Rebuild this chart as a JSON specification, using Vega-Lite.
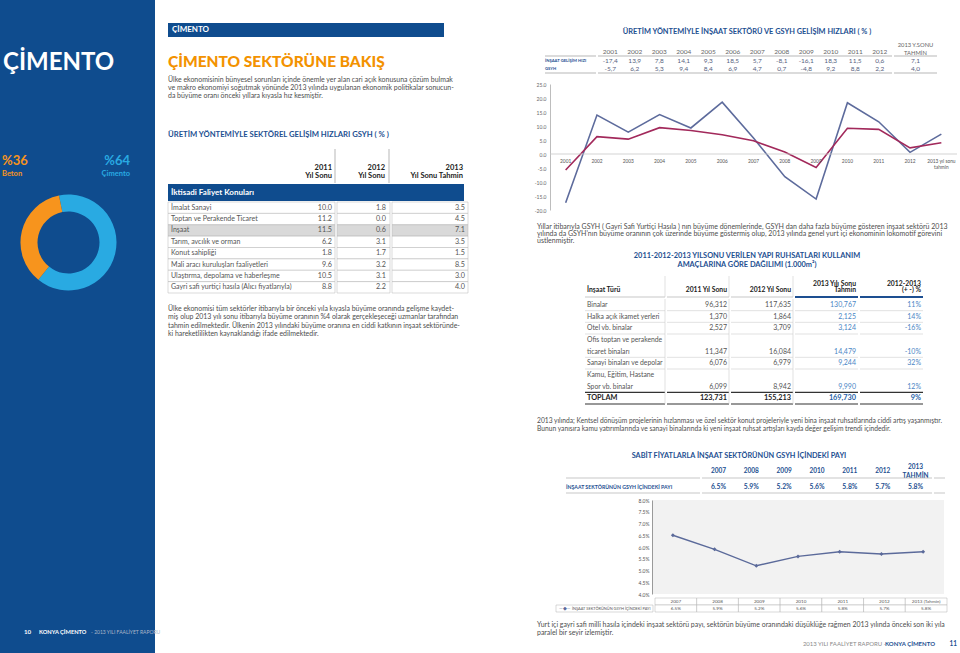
{
"$schema": "https://vega.github.io/schema/vega-lite/v6.json",
"padding": 0,
"background": "#ffffff",
"config": {
  "view": {"stroke": null},
  "font": "Lato",
  "text": {"font": "Lato"},
  "axis": {"labelFont": "Lato"},
  "locale": {"number": {"decimal": ".", "thousands": ",", "grouping": [3], "currency": ["", ""], "minus": "-"}}
},
"datasets": {
  "donut": [{"k": "Çimento", "v": 64}, {"k": "Beton", "v": 36}],
  "donutLbl": [
    {"side": "L", "line": "a", "t": "%36"}, {"side": "L", "line": "b", "t": "Beton"},
    {"side": "R", "line": "a", "t": "%64"}, {"side": "R", "line": "b", "t": "Çimento"}
  ],
  "sector": [
    {"konu": "İmalat Sanayi", "y2011": 10.0, "y2012": 1.8, "y2013": 3.5},
    {"konu": "Toptan ve Perakende Ticaret", "y2011": 11.2, "y2012": 0.0, "y2013": 4.5},
    {"konu": "İnşaat", "y2011": 11.5, "y2012": 0.6, "y2013": 7.1},
    {"konu": "Tarım, avcılık ve orman", "y2011": 6.2, "y2012": 3.1, "y2013": 3.5},
    {"konu": "Konut sahipliği", "y2011": 1.8, "y2012": 1.7, "y2013": 1.5},
    {"konu": "Mali aracı kuruluşları faaliyetleri", "y2011": 9.6, "y2012": 3.2, "y2013": 8.5},
    {"konu": "Ulaştırma, depolama ve haberleşme", "y2011": 10.5, "y2012": 3.1, "y2013": 3.0},
    {"konu": "Gayri safi yurtiçi hasıla (Alıcı fiyatlarıyla)", "y2011": 8.8, "y2012": 2.2, "y2013": 4.0}
  ],
  "growth": [
    {"year": "2001", "series": "İnşaat", "v": -17.4, "lbl": "-17,4"},
    {"year": "2002", "series": "İnşaat", "v": 13.9, "lbl": "13,9"},
    {"year": "2003", "series": "İnşaat", "v": 7.8, "lbl": "7,8"},
    {"year": "2004", "series": "İnşaat", "v": 14.1, "lbl": "14,1"},
    {"year": "2005", "series": "İnşaat", "v": 9.3, "lbl": "9,3"},
    {"year": "2006", "series": "İnşaat", "v": 18.5, "lbl": "18,5"},
    {"year": "2007", "series": "İnşaat", "v": 5.7, "lbl": "5,7"},
    {"year": "2008", "series": "İnşaat", "v": -8.1, "lbl": "-8,1"},
    {"year": "2009", "series": "İnşaat", "v": -16.1, "lbl": "-16,1"},
    {"year": "2010", "series": "İnşaat", "v": 18.3, "lbl": "18,3"},
    {"year": "2011", "series": "İnşaat", "v": 11.5, "lbl": "11,5"},
    {"year": "2012", "series": "İnşaat", "v": 0.6, "lbl": "0,6"},
    {"year": "2013", "series": "İnşaat", "v": 7.1, "lbl": "7,1"},
    {"year": "2001", "series": "GSYH", "v": -5.7, "lbl": "-5,7"},
    {"year": "2002", "series": "GSYH", "v": 6.2, "lbl": "6,2"},
    {"year": "2003", "series": "GSYH", "v": 5.3, "lbl": "5,3"},
    {"year": "2004", "series": "GSYH", "v": 9.4, "lbl": "9,4"},
    {"year": "2005", "series": "GSYH", "v": 8.4, "lbl": "8,4"},
    {"year": "2006", "series": "GSYH", "v": 6.9, "lbl": "6,9"},
    {"year": "2007", "series": "GSYH", "v": 4.7, "lbl": "4,7"},
    {"year": "2008", "series": "GSYH", "v": 0.7, "lbl": "0,7"},
    {"year": "2009", "series": "GSYH", "v": -4.8, "lbl": "-4,8"},
    {"year": "2010", "series": "GSYH", "v": 9.2, "lbl": "9,2"},
    {"year": "2011", "series": "GSYH", "v": 8.8, "lbl": "8,8"},
    {"year": "2012", "series": "GSYH", "v": 2.2, "lbl": "2,2"},
    {"year": "2013", "series": "GSYH", "v": 4.0, "lbl": "4,0"}
  ],
  "yearLbl": [
    {"year": "2001", "t": "2001"}, {"year": "2002", "t": "2002"}, {"year": "2003", "t": "2003"},
    {"year": "2004", "t": "2004"}, {"year": "2005", "t": "2005"}, {"year": "2006", "t": "2006"},
    {"year": "2007", "t": "2007"}, {"year": "2008", "t": "2008"}, {"year": "2009", "t": "2009"},
    {"year": "2010", "t": "2010"}, {"year": "2011", "t": "2011"}, {"year": "2012", "t": "2012"},
    {"year": "2013", "t": "2013 yıl sonu\ntahmin"}
  ],
  "seriesLbl": [{"series": "İnşaat", "t": "İNŞAAT GELİŞİM HIZI"}, {"series": "GSYH", "t": "GSYH"}],
  "ruhsat": [
    {"slot": "r1", "tur": "Binalar", "y2011": 96312, "y2012": 117635, "y2013": 130767, "pct": 0.11},
    {"slot": "r2", "tur": "Halka açık ikamet yerleri", "y2011": 1370, "y2012": 1864, "y2013": 2125, "pct": 0.14},
    {"slot": "r3", "tur": "Otel vb. binalar", "y2011": 2527, "y2012": 3709, "y2013": 3124, "pct": -0.16},
    {"slot": "r4a", "tur": "Ofis toptan ve perakende"},
    {"slot": "r4b", "tur": "ticaret binaları", "y2011": 11347, "y2012": 16084, "y2013": 14479, "pct": -0.10},
    {"slot": "r5", "tur": "Sanayi binaları ve depolar", "y2011": 6076, "y2012": 6979, "y2013": 9244, "pct": 0.32},
    {"slot": "r6a", "tur": "Kamu, Eğitim, Hastane"},
    {"slot": "r6b", "tur": "Spor vb. binalar", "y2011": 6099, "y2012": 8942, "y2013": 9990, "pct": 0.12},
    {"slot": "r7", "tur": "TOPLAM", "y2011": 123731, "y2012": 155213, "y2013": 169730, "pct": 0.09}
  ],
  "pay": [
    {"year": "2007", "hdr": "2007", "pay": 0.065},
    {"year": "2008", "hdr": "2008", "pay": 0.059},
    {"year": "2009", "hdr": "2009", "pay": 0.052},
    {"year": "2010", "hdr": "2010", "pay": 0.056},
    {"year": "2011", "hdr": "2011", "pay": 0.058},
    {"year": "2012", "hdr": "2012", "pay": 0.057},
    {"year": "2013 (Tahmin)", "hdr": "2013\nTAHMİN", "pay": 0.058}
  ],
  "texts": [
    {"block": "p1", "line": 1, "t": "Ülke ekonomisinin bünyesel sorunları içinde önemle yer alan cari açık konusuna çözüm bulmak"},
    {"block": "p1", "line": 2, "t": "ve makro ekonomiyi soğutmak yönünde 2013 yılında uygulanan ekonomik politikalar sonucun-"},
    {"block": "p1", "line": 3, "t": "da büyüme oranı önceki yıllara kıyasla hız kesmiştir."},
    {"block": "p2", "line": 1, "t": "Ülke ekonomisi tüm sektörler itibarıyla bir önceki yıla kıyasla büyüme oranında gelişme kaydet-"},
    {"block": "p2", "line": 2, "t": "miş olup 2013 yılı sonu itibarıyla büyüme oranının %4 olarak gerçekleşeceği uzmanlar tarafından"},
    {"block": "p2", "line": 3, "t": "tahmin edilmektedir. Ülkenin 2013 yılındaki büyüme oranına en ciddi katkının inşaat sektöründe-"},
    {"block": "p2", "line": 4, "t": "ki hareketlilikten kaynaklandığı ifade edilmektedir."},
    {"block": "p3", "line": 1, "t": "Yıllar itibarıyla GSYH ( Gayri Safi Yurtiçi Hasıla ) nın büyüme dönemlerinde, GSYH dan daha fazla büyüme gösteren inşaat sektörü 2013"},
    {"block": "p3", "line": 2, "t": "yılında da GSYH'nın büyüme oranının çok üzerinde büyüme göstermiş olup, 2013 yılında genel yurt içi ekonominin lokomotif görevini"},
    {"block": "p3", "line": 3, "t": "üstlenmiştir."},
    {"block": "p4", "line": 1, "t": "2013 yılında; Kentsel dönüşüm projelerinin hızlanması ve özel sektör konut projeleriyle yeni bina inşaat ruhsatlarında ciddi artış yaşanmıştır."},
    {"block": "p4", "line": 2, "t": "Bunun yanısıra kamu yatırımlarında ve sanayi binalarında ki yeni inşaat ruhsat artışları kayda değer gelişim trendi içindedir."},
    {"block": "p5", "line": 1, "t": "Yurt içi gayri safi milli hasıla içindeki inşaat sektörü payı, sektörün büyüme oranındaki düşüklüğe rağmen 2013 yılında önceki son iki yıla"},
    {"block": "p5", "line": 2, "t": "paralel bir seyir izlemiştir."}
  ]
},
"resolve": {"scale": {"color": "independent", "size": "independent", "theta": "independent"}},
"spacing": 0,
"hconcat": [
 {"spacing": 0, "vconcat": [
   {"width": 155, "height": 125, "view": {"fill": "#0f4c8e"}, "data": {"values": [{}]},
    "mark": {"type": "text", "text": "ÇİMENTO", "align": "left", "baseline": "middle", "dx": 3, "fontSize": 24, "fontWeight": "bold", "color": "#ffffff"},
    "encoding": {"x": {"datum": 0, "type": "quantitative", "scale": {"domain": [0, 1]}, "axis": null}}},
   {"width": 155, "height": 25, "view": {"fill": "#0f4c8e"}, "data": {"values": []}, "mark": "point"},
   {"width": 155, "height": 35, "view": {"fill": "#0f4c8e"}, "data": {"name": "donutLbl"}, "layer": [
     {"transform": [{"filter": "datum.side === 'L'"}],
      "mark": {"type": "text", "align": "left", "baseline": "middle", "dx": 2, "fontWeight": "bold", "color": "#f7941d"},
      "encoding": {"x": {"datum": 0, "type": "quantitative", "scale": {"domain": [0, 1]}, "axis": null},
        "y": {"field": "line", "type": "ordinal", "scale": {"type": "point", "domain": ["a", "b"], "padding": 0.9}, "axis": null},
        "size": {"field": "line", "type": "ordinal", "scale": {"domain": ["a", "b"], "range": [13, 7.5]}, "legend": null},
        "text": {"field": "t"}}},
     {"transform": [{"filter": "datum.side === 'R'"}],
      "mark": {"type": "text", "align": "right", "baseline": "middle", "dx": -25, "fontWeight": "bold", "color": "#29aae2"},
      "encoding": {"x": {"datum": 1, "type": "quantitative", "scale": {"domain": [0, 1]}, "axis": null},
        "y": {"field": "line", "type": "ordinal", "scale": {"type": "point", "domain": ["a", "b"], "padding": 0.9}, "axis": null},
        "size": {"field": "line", "type": "ordinal", "scale": {"domain": ["a", "b"], "range": [13, 7.5]}, "legend": null},
        "text": {"field": "t"}}}
   ]},
   {"spacing": 0, "hconcat": [
     {"width": 137, "height": 115, "view": {"fill": "#0f4c8e"}, "data": {"name": "donut"},
      "mark": {"type": "arc", "innerRadius": 31, "outerRadius": 48},
      "encoding": {
        "theta": {"field": "v", "type": "quantitative", "scale": {"range": [-0.2, 6.0832]}},
        "color": {"field": "k", "type": "nominal", "scale": {"domain": ["Çimento", "Beton"], "range": ["#29aae2", "#f7941d"]}, "legend": null},
        "order": {"field": "k", "sort": "descending"}}},
     {"width": 18, "height": 115, "view": {"fill": "#0f4c8e"}, "data": {"values": []}, "mark": "point"}
   ]},
   {"width": 155, "height": 320, "view": {"fill": "#0f4c8e"}, "data": {"values": []}, "mark": "point"},
   {"width": 155, "height": 24, "view": {"fill": "#0f4c8e"}, "data": {"values": [{}]}, "layer": [
     {"mark": {"type": "text", "text": "10", "align": "left", "baseline": "middle", "dx": 24, "fontSize": 6.2, "fontWeight": "bold", "color": "#ffffff"},
      "encoding": {"x": {"datum": 0, "type": "quantitative", "scale": {"domain": [0, 1]}, "axis": null}}},
     {"mark": {"type": "text", "text": "KONYA ÇİMENTO", "align": "left", "baseline": "middle", "dx": 39, "fontSize": 5.7, "fontWeight": "bold", "color": "#ffffff"},
      "encoding": {"x": {"datum": 0, "type": "quantitative", "scale": {"domain": [0, 1]}, "axis": null}}},
     {"mark": {"type": "text", "text": "- 2013 YILI FAALİYET RAPORU", "align": "left", "baseline": "middle", "dx": 91, "fontSize": 5, "color": "#a9b6c9"},
      "encoding": {"x": {"datum": 0, "type": "quantitative", "scale": {"domain": [0, 1]}, "axis": null}}}
   ]},
   {"width": 155, "height": 9, "view": {"fill": "#0f4c8e"}, "data": {"values": []}, "mark": "point"},
   {"width": 167, "height": 0, "data": {"values": []}, "mark": "point"}
 ]},
 {"spacing": 63, "resolve": {"scale": {"color": "independent"}}, "hconcat": [
  {"spacing": 0, "vconcat": [
    {"width": 296, "height": 23, "data": {"values": []}, "mark": "point"},
    {"width": 276, "height": 14, "view": {"fill": "#0f4c8e"}, "data": {"values": [{}]},
     "mark": {"type": "text", "text": "ÇİMENTO", "align": "left", "baseline": "middle", "dx": 4, "fontSize": 8, "fontWeight": "bold", "color": "#ffffff"},
     "encoding": {"x": {"datum": 0, "type": "quantitative", "scale": {"domain": [0, 1]}, "axis": null}}},
    {"width": 296, "height": 10, "data": {"values": []}, "mark": "point"},
    {"width": 296, "height": 29, "data": {"values": [{}]},
     "mark": {"type": "text", "text": "ÇİMENTO SEKTÖRÜNE BAKIŞ", "align": "left", "baseline": "middle", "fontSize": 15.5, "fontWeight": 900, "color": "#f39200"},
     "encoding": {"x": {"datum": 0, "type": "quantitative", "scale": {"domain": [0, 1]}, "axis": null}}},
    {"width": 296, "height": 24, "data": {"name": "texts"}, "transform": [{"filter": "datum.block === 'p1'"}],
     "mark": {"type": "text", "align": "left", "baseline": "middle", "fontSize": 6.95, "color": "#4d4d4d"},
     "encoding": {"x": {"datum": 0, "type": "quantitative", "scale": {"domain": [0, 1]}, "axis": null},
       "y": {"field": "line", "type": "ordinal", "scale": {"type": "point", "padding": 0.5}, "axis": null},
       "text": {"field": "t"}}},
    {"width": 296, "height": 28, "data": {"values": []}, "mark": "point"},
    {"width": 296, "height": 14, "data": {"values": [{}]},
     "mark": {"type": "text", "text": "ÜRETİM YÖNTEMİYLE SEKTÖREL GELİŞİM HIZLARI GSYH ( % )", "align": "left", "baseline": "middle", "fontSize": 7.7, "fontWeight": "bold", "color": "#1d4f91"},
     "encoding": {"x": {"datum": 0, "type": "quantitative", "scale": {"domain": [0, 1]}, "axis": null}}},
    {"width": 296, "height": 6, "data": {"values": []}, "mark": "point"},
    {"spacing": 0, "hconcat": [
      {"width": 167, "height": 34, "data": {"values": [{}]}, "layer": [
        {"mark": {"type": "text", "text": "2011\nYıl Sonu", "lineBreak": "\n", "lineHeight": 8.3, "align": "right", "baseline": "top", "dx": -3, "dy": -2.3, "fontSize": 7.5, "fontWeight": "bold", "color": "#222222"},
         "encoding": {"x": {"datum": 1, "type": "quantitative", "scale": {"domain": [0, 1]}, "axis": null}}},
        {"mark": {"type": "rule", "color": "#9a9a9a", "strokeWidth": 0.7},
         "encoding": {"x": {"datum": 1, "type": "quantitative", "scale": {"domain": [0, 1]}, "axis": null}}}
      ]},
      {"width": 53, "height": 34, "data": {"values": [{}]}, "layer": [
        {"mark": {"type": "text", "text": "2012\nYıl Sonu", "lineBreak": "\n", "lineHeight": 8.3, "align": "right", "baseline": "top", "dx": -4, "dy": -2.3, "fontSize": 7.5, "fontWeight": "bold", "color": "#222222"},
         "encoding": {"x": {"datum": 1, "type": "quantitative", "scale": {"domain": [0, 1]}, "axis": null}}},
        {"mark": {"type": "rule", "color": "#9a9a9a", "strokeWidth": 0.7},
         "encoding": {"x": {"datum": 1, "type": "quantitative", "scale": {"domain": [0, 1]}, "axis": null}}}
      ]},
      {"width": 76, "height": 34, "data": {"values": [{}]},
       "mark": {"type": "text", "text": "2013\nYıl Sonu Tahmin", "lineBreak": "\n", "lineHeight": 8.3, "align": "right", "baseline": "top", "dx": -3, "dy": -2.3, "fontSize": 7.5, "fontWeight": "bold", "color": "#222222"},
       "encoding": {"x": {"datum": 1, "type": "quantitative", "scale": {"domain": [0, 1]}, "axis": null}}}
    ]},
    {"width": 296, "height": 17, "view": {"fill": "#0f4c8e"}, "data": {"values": [{}]},
     "mark": {"type": "text", "text": "İktisadi Faliyet Konuları", "align": "left", "baseline": "middle", "dx": 3, "fontSize": 8, "fontWeight": "bold", "color": "#ffffff"},
     "encoding": {"x": {"datum": 0, "type": "quantitative", "scale": {"domain": [0, 1]}, "axis": null}}},
    {"spacing": 0, "hconcat": [
      {"width": 167, "height": 91, "data": {"name": "sector"}, "layer": [
        {"mark": {"type": "rect", "stroke": "#b5b5b5", "strokeWidth": 0.5},
         "encoding": {"y": {"field": "konu", "type": "nominal", "sort": null, "scale": {"type": "band", "paddingInner": 0, "paddingOuter": 0}, "axis": null},
           "color": {"condition": {"test": "datum.konu === 'İnşaat'", "value": "#d9d9d9"}, "value": "#ffffff"}}},
        {"mark": {"type": "text", "align": "left", "baseline": "middle", "dx": 3, "fontSize": 7, "color": "#555555"},
         "encoding": {"x": {"datum": 0, "type": "quantitative", "scale": {"domain": [0, 1]}, "axis": null},
           "y": {"field": "konu", "type": "nominal", "sort": null, "scale": {"type": "band", "paddingInner": 0, "paddingOuter": 0}, "axis": null},
           "text": {"field": "konu"}}},
        {"mark": {"type": "text", "align": "right", "baseline": "middle", "dx": -3, "fontSize": 7.2, "color": "#555555"},
         "encoding": {"x": {"datum": 1, "type": "quantitative", "scale": {"domain": [0, 1]}, "axis": null},
           "y": {"field": "konu", "type": "nominal", "sort": null, "scale": {"type": "band", "paddingInner": 0, "paddingOuter": 0}, "axis": null},
           "text": {"field": "y2011", "type": "quantitative", "format": ".1f"}}}
      ]},
      {"width": 53, "height": 91, "data": {"name": "sector"}, "layer": [
        {"mark": {"type": "rect", "stroke": "#b5b5b5", "strokeWidth": 0.5},
         "encoding": {"y": {"field": "konu", "type": "nominal", "sort": null, "scale": {"type": "band", "paddingInner": 0, "paddingOuter": 0}, "axis": null},
           "color": {"condition": {"test": "datum.konu === 'İnşaat'", "value": "#d9d9d9"}, "value": "#ffffff"}}},
        {"mark": {"type": "text", "align": "right", "baseline": "middle", "dx": -4, "fontSize": 7.2, "color": "#555555"},
         "encoding": {"x": {"datum": 1, "type": "quantitative", "scale": {"domain": [0, 1]}, "axis": null},
           "y": {"field": "konu", "type": "nominal", "sort": null, "scale": {"type": "band", "paddingInner": 0, "paddingOuter": 0}, "axis": null},
           "text": {"field": "y2012", "type": "quantitative", "format": ".1f"}}}
      ]},
      {"width": 76, "height": 91, "data": {"name": "sector"}, "layer": [
        {"mark": {"type": "rect", "stroke": "#b5b5b5", "strokeWidth": 0.5},
         "encoding": {"y": {"field": "konu", "type": "nominal", "sort": null, "scale": {"type": "band", "paddingInner": 0, "paddingOuter": 0}, "axis": null},
           "color": {"condition": {"test": "datum.konu === 'İnşaat'", "value": "#d9d9d9"}, "value": "#ffffff"}}},
        {"mark": {"type": "text", "align": "right", "baseline": "middle", "dx": -3, "fontSize": 7.2, "color": "#555555"},
         "encoding": {"x": {"datum": 1, "type": "quantitative", "scale": {"domain": [0, 1]}, "axis": null},
           "y": {"field": "konu", "type": "nominal", "sort": null, "scale": {"type": "band", "paddingInner": 0, "paddingOuter": 0}, "axis": null},
           "text": {"field": "y2013", "type": "quantitative", "format": ".1f"}}}
      ]}
    ]},
    {"width": 296, "height": 11, "data": {"values": []}, "mark": "point"},
    {"width": 296, "height": 33, "data": {"name": "texts"}, "transform": [{"filter": "datum.block === 'p2'"}],
     "mark": {"type": "text", "align": "left", "baseline": "middle", "fontSize": 6.95, "color": "#4d4d4d"},
     "encoding": {"x": {"datum": 0, "type": "quantitative", "scale": {"domain": [0, 1]}, "axis": null},
       "y": {"field": "line", "type": "ordinal", "scale": {"type": "point", "padding": 0.5}, "axis": null},
       "text": {"field": "t"}}},
    {"width": 300, "height": 0, "data": {"values": []}, "mark": "point"}
  ]},
  {"spacing": 0, "vconcat": [
    {"width": 430, "height": 24, "data": {"values": []}, "mark": "point"},
    {"width": 430, "height": 16, "data": {"values": [{}]},
     "mark": {"type": "text", "text": "ÜRETİM YÖNTEMİYLE İNŞAAT SEKTÖRÜ VE GSYH GELİŞİM HIZLARI ( % )", "baseline": "middle", "fontSize": 7.4, "fontWeight": "bold", "color": "#1d4f91"},
     "encoding": {}},
    {"width": 430, "height": 2, "data": {"values": []}, "mark": "point"},
    {"spacing": 0, "hconcat": [
      {"width": 12, "height": 14, "data": {"values": []}, "mark": "point"},
      {"width": 51, "height": 14, "data": {"values": [{}]}, "mark": {"type": "rule", "color": "#9a9a9a", "strokeWidth": 0.7},
       "encoding": {"y": {"datum": 0, "type": "quantitative", "scale": {"domain": [0, 1]}, "axis": null}}},
      {"width": 294, "height": 14, "layer": [
        {"data": {"name": "growth"}, "transform": [{"filter": "datum.series === 'GSYH' && datum.year !== '2013'"}],
         "mark": {"type": "text", "baseline": "middle", "dy": 2.5, "fontSize": 6.5, "color": "#666666"},
         "encoding": {"x": {"field": "year", "type": "nominal", "scale": {"type": "band", "paddingInner": 0, "paddingOuter": 0}, "axis": null},
           "text": {"field": "year"}}},
        {"data": {"values": [{}]}, "mark": {"type": "rule", "color": "#9a9a9a", "strokeWidth": 0.7},
         "encoding": {"y": {"datum": 0, "type": "quantitative", "scale": {"domain": [0, 1]}, "axis": null}}}
      ]},
      {"width": 43, "height": 14, "data": {"values": [{}]}, "layer": [
        {"mark": {"type": "text", "text": "2013 Y.SONU\nTAHMİN", "lineBreak": "\n", "lineHeight": 7.7, "baseline": "top", "dy": -6.9, "fontSize": 5.8, "color": "#666666"}, "encoding": {}},
        {"mark": {"type": "rule", "color": "#9a9a9a", "strokeWidth": 0.7},
         "encoding": {"y": {"datum": 0, "type": "quantitative", "scale": {"domain": [0, 1]}, "axis": null}}}
      ]}
    ]},
    {"spacing": 0, "hconcat": [
      {"width": 12, "height": 16, "data": {"values": []}, "mark": "point"},
      {"width": 51, "height": 16, "layer": [
        {"data": {"name": "seriesLbl"}, "mark": {"type": "text", "align": "left", "baseline": "middle", "fontSize": 4.2, "fontWeight": "bold", "color": "#1d4f91"},
         "encoding": {"x": {"datum": 0, "type": "quantitative", "scale": {"domain": [0, 1]}, "axis": null},
           "y": {"field": "series", "type": "nominal", "scale": {"type": "band", "domain": ["İnşaat", "GSYH"], "paddingInner": 0, "paddingOuter": 0}, "axis": null},
           "text": {"field": "t"}}},
        {"data": {"values": [{"series": "GSYH"}]}, "mark": {"type": "rule", "color": "#9a9a9a", "strokeWidth": 0.7},
         "encoding": {"y": {"field": "series", "type": "nominal", "bandPosition": 1, "scale": {"type": "band", "domain": ["İnşaat", "GSYH"], "paddingInner": 0, "paddingOuter": 0}, "axis": null}}}
      ]},
      {"width": 294, "height": 16, "layer": [
        {"data": {"name": "growth"}, "transform": [{"filter": "datum.year !== '2013'"}],
         "mark": {"type": "text", "baseline": "middle", "fontSize": 6.5, "color": "#56627e"},
         "encoding": {"x": {"field": "year", "type": "nominal", "scale": {"type": "band", "paddingInner": 0, "paddingOuter": 0}, "axis": null},
           "y": {"field": "series", "type": "nominal", "scale": {"type": "band", "domain": ["İnşaat", "GSYH"], "paddingInner": 0, "paddingOuter": 0}, "axis": null},
           "text": {"field": "lbl"}}},
        {"data": {"values": [{"series": "GSYH"}]}, "mark": {"type": "rule", "color": "#9a9a9a", "strokeWidth": 0.7},
         "encoding": {"y": {"field": "series", "type": "nominal", "bandPosition": 1, "scale": {"type": "band", "domain": ["İnşaat", "GSYH"], "paddingInner": 0, "paddingOuter": 0}, "axis": null}}}
      ]},
      {"width": 43, "height": 16, "layer": [
        {"data": {"name": "growth"}, "transform": [{"filter": "datum.year === '2013'"}],
         "mark": {"type": "text", "baseline": "middle", "fontSize": 6.5, "color": "#56627e"},
         "encoding": {"y": {"field": "series", "type": "nominal", "scale": {"type": "band", "domain": ["İnşaat", "GSYH"], "paddingInner": 0, "paddingOuter": 0}, "axis": null},
           "text": {"field": "lbl"}}},
        {"data": {"values": [{"series": "GSYH"}]}, "mark": {"type": "rule", "color": "#9a9a9a", "strokeWidth": 0.7},
         "encoding": {"y": {"field": "series", "type": "nominal", "bandPosition": 1, "scale": {"type": "band", "domain": ["İnşaat", "GSYH"], "paddingInner": 0, "paddingOuter": 0}, "axis": null}}}
      ]}
    ]},
    {"width": 430, "height": 8, "data": {"values": []}, "mark": "point"},
    {"spacing": 0, "hconcat": [
      {"width": 2, "height": 126, "data": {"values": []}, "mark": "point"},
      {"width": 407, "height": 126, "layer": [
        {"data": {"name": "growth"}, "mark": {"type": "line", "strokeWidth": 1.6},
         "encoding": {
           "x": {"field": "year", "type": "ordinal", "scale": {"type": "point", "padding": 0.5}, "axis": null},
           "y": {"field": "v", "type": "quantitative", "scale": {"domain": [-20, 25], "nice": false},
             "axis": {"values": [-20, -15, -10, -5, 0, 5, 10, 15, 20, 25], "format": ".1f", "title": null, "grid": false, "ticks": false,
               "labelFontSize": 5, "labelColor": "#666666", "labelPadding": 4, "domainColor": "#bdbdbd", "minExtent": 16, "maxExtent": 16, "labelOverlap": false}},
           "color": {"field": "series", "type": "nominal", "scale": {"domain": ["İnşaat", "GSYH"], "range": ["#5d6b9c", "#a2295b"]}, "legend": null}}},
        {"data": {"values": [{}]}, "mark": {"type": "rule", "color": "#c8c8c8", "strokeWidth": 0.8},
         "encoding": {"y": {"datum": 0, "type": "quantitative",
             "axis": {"values": [-20, -15, -10, -5, 0, 5, 10, 15, 20, 25], "format": ".1f", "title": null, "grid": false, "ticks": false,
               "labelFontSize": 5, "labelColor": "#666666", "labelPadding": 4, "domainColor": "#bdbdbd", "minExtent": 16, "maxExtent": 16, "labelOverlap": false}}}},
        {"data": {"name": "yearLbl"}, "mark": {"type": "text", "baseline": "top", "dy": 5, "fontSize": 4.8, "color": "#555555", "lineBreak": "\n", "lineHeight": 5.5},
         "encoding": {"x": {"field": "year", "type": "ordinal", "axis": null},
           "y": {"datum": 0, "type": "quantitative",
             "axis": {"values": [-20, -15, -10, -5, 0, 5, 10, 15, 20, 25], "format": ".1f", "title": null, "grid": false, "ticks": false,
               "labelFontSize": 5, "labelColor": "#666666", "labelPadding": 4, "domainColor": "#bdbdbd", "minExtent": 16, "maxExtent": 16, "labelOverlap": false}},
           "text": {"field": "t"}}}
      ]}
    ]},
    {"width": 430, "height": 9, "data": {"values": []}, "mark": "point"},
    {"width": 430, "height": 22, "data": {"name": "texts"}, "transform": [{"filter": "datum.block === 'p3'"}],
     "mark": {"type": "text", "align": "left", "baseline": "middle", "dx": 5, "fontSize": 7, "color": "#4d4d4d"},
     "encoding": {"x": {"datum": 0, "type": "quantitative", "scale": {"domain": [0, 1]}, "axis": null},
       "y": {"field": "line", "type": "ordinal", "scale": {"type": "point", "padding": 0.5}, "axis": null},
       "text": {"field": "t"}}},
    {"width": 430, "height": 6, "data": {"values": []}, "mark": "point"},
    {"width": 430, "height": 18, "data": {"values": [{}]},
     "mark": {"type": "text", "text": "2011-2012-2013 YILSONU VERİLEN YAPI RUHSATLARI KULLANIM\nAMAÇLARINA GÖRE DAĞILIMI (1.000m²)", "lineBreak": "\n", "lineHeight": 9, "baseline": "top", "dy": -7.7, "fontSize": 7.4, "fontWeight": "bold", "color": "#1d4f91"},
     "encoding": {}},
    {"width": 430, "height": 6, "data": {"values": []}, "mark": "point"},
    {"spacing": 0, "hconcat": [
      {"width": 52, "height": 21, "data": {"values": []}, "mark": "point"},
      {"width": 80, "height": 21, "data": {"values": [{}]}, "layer": [
        {"mark": {"type": "text", "text": "İnşaat Türü", "align": "left", "baseline": "middle", "dx": 2, "dy": 3, "fontSize": 6.8, "fontWeight": "bold", "color": "#222222"},
         "encoding": {"x": {"datum": 0, "type": "quantitative", "scale": {"domain": [0, 1]}, "axis": null}}},
        {"mark": {"type": "rule", "color": "#b0b0b0", "strokeWidth": 0.7}, "encoding": {"y": {"datum": 0, "type": "quantitative", "scale": {"domain": [0, 1]}, "axis": null}}},
        {"mark": {"type": "rule", "color": "#cfcfcf", "strokeWidth": 0.6}, "encoding": {"x": {"datum": 1, "type": "quantitative", "scale": {"domain": [0, 1]}, "axis": null}}}
      ]},
      {"width": 62, "height": 21, "data": {"values": [{}]}, "layer": [
        {"mark": {"type": "text", "text": "2011 Yıl Sonu", "align": "right", "baseline": "middle", "dx": -2, "dy": 3, "fontSize": 6.8, "fontWeight": "bold", "color": "#222222"},
         "encoding": {"x": {"datum": 1, "type": "quantitative", "scale": {"domain": [0, 1]}, "axis": null}}},
        {"mark": {"type": "rule", "color": "#b0b0b0", "strokeWidth": 0.7}, "encoding": {"y": {"datum": 0, "type": "quantitative", "scale": {"domain": [0, 1]}, "axis": null}}},
        {"mark": {"type": "rule", "color": "#cfcfcf", "strokeWidth": 0.6}, "encoding": {"x": {"datum": 1, "type": "quantitative", "scale": {"domain": [0, 1]}, "axis": null}}}
      ]},
      {"width": 62, "height": 21, "data": {"values": [{}]}, "layer": [
        {"mark": {"type": "text", "text": "2012 Yıl Sonu", "align": "right", "baseline": "middle", "dx": -2, "dy": 3, "fontSize": 6.8, "fontWeight": "bold", "color": "#222222"},
         "encoding": {"x": {"datum": 1, "type": "quantitative", "scale": {"domain": [0, 1]}, "axis": null}}},
        {"mark": {"type": "rule", "color": "#b0b0b0", "strokeWidth": 0.7}, "encoding": {"y": {"datum": 0, "type": "quantitative", "scale": {"domain": [0, 1]}, "axis": null}}},
        {"mark": {"type": "rule", "color": "#cfcfcf", "strokeWidth": 0.6}, "encoding": {"x": {"datum": 1, "type": "quantitative", "scale": {"domain": [0, 1]}, "axis": null}}}
      ]},
      {"width": 63, "height": 21, "data": {"values": [{}]}, "layer": [
        {"mark": {"type": "text", "text": "2013 Yılı Sonu\nTahmin", "lineBreak": "\n", "lineHeight": 6.6, "align": "right", "baseline": "top", "dx": -2, "dy": -5.8, "fontSize": 6.8, "fontWeight": "bold", "color": "#222222"},
         "encoding": {"x": {"datum": 1, "type": "quantitative", "scale": {"domain": [0, 1]}, "axis": null}}},
        {"mark": {"type": "rule", "color": "#1d4f91", "strokeWidth": 2}, "encoding": {"y": {"datum": 0, "type": "quantitative", "scale": {"domain": [0, 1]}, "axis": null}}}
      ]},
      {"width": 63, "height": 21, "data": {"values": [{}]}, "layer": [
        {"mark": {"type": "text", "text": "2012-2013\n(+ -) %", "lineBreak": "\n", "lineHeight": 6.6, "align": "right", "baseline": "top", "dx": -2, "dy": -5.8, "fontSize": 6.8, "fontWeight": "bold", "color": "#222222"},
         "encoding": {"x": {"datum": 1, "type": "quantitative", "scale": {"domain": [0, 1]}, "axis": null}}},
        {"mark": {"type": "rule", "color": "#1d4f91", "strokeWidth": 2}, "encoding": {"y": {"datum": 0, "type": "quantitative", "scale": {"domain": [0, 1]}, "axis": null}}}
      ]}
    ]},
    {"spacing": 0, "hconcat": [
      {"width": 52, "height": 105, "data": {"values": []}, "mark": "point"},
      {"width": 80, "height": 105, "data": {"name": "ruhsat"}, "layer": [
        {"transform": [{"filter": "indexof(['r1','r2','r3','r4b','r5'], datum.slot) >= 0"}], "mark": {"type": "rule", "color": "#cfcfcf", "strokeWidth": 0.6},
         "encoding": {"y": {"field": "slot", "type": "nominal", "bandPosition": 1, "scale": {"type": "band", "domain": ["r1","r2","r3","r4a","r4b","r5","r6a","r6b","r7"], "paddingInner": 0, "paddingOuter": 0}, "axis": null}}},
        {"transform": [{"filter": "datum.slot === 'r6b' || datum.slot === 'r7'"}], "mark": {"type": "rule", "color": "#333333", "strokeWidth": 1.2},
         "encoding": {"y": {"field": "slot", "type": "nominal", "bandPosition": 1, "scale": {"type": "band", "domain": ["r1","r2","r3","r4a","r4b","r5","r6a","r6b","r7"], "paddingInner": 0, "paddingOuter": 0}, "axis": null}}},
        {"transform": [{"filter": "datum.slot === 'r1'"}], "mark": {"type": "rule", "color": "#cfcfcf", "strokeWidth": 0.6},
         "encoding": {"x": {"datum": 1, "type": "quantitative", "scale": {"domain": [0, 1]}, "axis": null}}},
        {"transform": [{"filter": "datum.slot !== 'r7'"}], "mark": {"type": "text", "align": "left", "baseline": "middle", "dx": 2, "fontSize": 6.8, "color": "#555555"},
         "encoding": {"x": {"datum": 0, "type": "quantitative", "scale": {"domain": [0, 1]}, "axis": null},
           "y": {"field": "slot", "type": "nominal", "scale": {"type": "band", "domain": ["r1","r2","r3","r4a","r4b","r5","r6a","r6b","r7"], "paddingInner": 0, "paddingOuter": 0}, "axis": null},
           "text": {"field": "tur"}}},
        {"transform": [{"filter": "datum.slot === 'r7'"}], "mark": {"type": "text", "align": "left", "baseline": "middle", "dx": 2, "fontSize": 7.3, "fontWeight": "bold", "color": "#222222"},
         "encoding": {"x": {"datum": 0, "type": "quantitative", "scale": {"domain": [0, 1]}, "axis": null},
           "y": {"field": "slot", "type": "nominal", "scale": {"type": "band", "domain": ["r1","r2","r3","r4a","r4b","r5","r6a","r6b","r7"], "paddingInner": 0, "paddingOuter": 0}, "axis": null},
           "text": {"field": "tur"}}}
      ]},
      {"width": 62, "height": 105, "data": {"name": "ruhsat"}, "layer": [
        {"transform": [{"filter": "indexof(['r1','r2','r3','r4b','r5'], datum.slot) >= 0"}], "mark": {"type": "rule", "color": "#cfcfcf", "strokeWidth": 0.6},
         "encoding": {"y": {"field": "slot", "type": "nominal", "bandPosition": 1, "scale": {"type": "band", "domain": ["r1","r2","r3","r4a","r4b","r5","r6a","r6b","r7"], "paddingInner": 0, "paddingOuter": 0}, "axis": null}}},
        {"transform": [{"filter": "datum.slot === 'r6b' || datum.slot === 'r7'"}], "mark": {"type": "rule", "color": "#333333", "strokeWidth": 1.2},
         "encoding": {"y": {"field": "slot", "type": "nominal", "bandPosition": 1, "scale": {"type": "band", "domain": ["r1","r2","r3","r4a","r4b","r5","r6a","r6b","r7"], "paddingInner": 0, "paddingOuter": 0}, "axis": null}}},
        {"transform": [{"filter": "datum.slot === 'r1'"}], "mark": {"type": "rule", "color": "#cfcfcf", "strokeWidth": 0.6},
         "encoding": {"x": {"datum": 1, "type": "quantitative", "scale": {"domain": [0, 1]}, "axis": null}}},
        {"transform": [{"filter": "isValid(datum.y2011) && datum.slot !== 'r7'"}], "mark": {"type": "text", "align": "right", "baseline": "middle", "dx": -2, "fontSize": 7, "color": "#555555"},
         "encoding": {"x": {"datum": 1, "type": "quantitative", "scale": {"domain": [0, 1]}, "axis": null},
           "y": {"field": "slot", "type": "nominal", "scale": {"type": "band", "domain": ["r1","r2","r3","r4a","r4b","r5","r6a","r6b","r7"], "paddingInner": 0, "paddingOuter": 0}, "axis": null},
           "text": {"field": "y2011", "type": "quantitative", "format": ",d"}}},
        {"transform": [{"filter": "datum.slot === 'r7'"}], "mark": {"type": "text", "align": "right", "baseline": "middle", "dx": -2, "fontSize": 7.3, "fontWeight": "bold", "color": "#222222"},
         "encoding": {"x": {"datum": 1, "type": "quantitative", "scale": {"domain": [0, 1]}, "axis": null},
           "y": {"field": "slot", "type": "nominal", "scale": {"type": "band", "domain": ["r1","r2","r3","r4a","r4b","r5","r6a","r6b","r7"], "paddingInner": 0, "paddingOuter": 0}, "axis": null},
           "text": {"field": "y2011", "type": "quantitative", "format": ",d"}}}
      ]},
      {"width": 62, "height": 105, "data": {"name": "ruhsat"}, "layer": [
        {"transform": [{"filter": "indexof(['r1','r2','r3','r4b','r5'], datum.slot) >= 0"}], "mark": {"type": "rule", "color": "#cfcfcf", "strokeWidth": 0.6},
         "encoding": {"y": {"field": "slot", "type": "nominal", "bandPosition": 1, "scale": {"type": "band", "domain": ["r1","r2","r3","r4a","r4b","r5","r6a","r6b","r7"], "paddingInner": 0, "paddingOuter": 0}, "axis": null}}},
        {"transform": [{"filter": "datum.slot === 'r6b' || datum.slot === 'r7'"}], "mark": {"type": "rule", "color": "#333333", "strokeWidth": 1.2},
         "encoding": {"y": {"field": "slot", "type": "nominal", "bandPosition": 1, "scale": {"type": "band", "domain": ["r1","r2","r3","r4a","r4b","r5","r6a","r6b","r7"], "paddingInner": 0, "paddingOuter": 0}, "axis": null}}},
        {"transform": [{"filter": "datum.slot === 'r1'"}], "mark": {"type": "rule", "color": "#cfcfcf", "strokeWidth": 0.6},
         "encoding": {"x": {"datum": 1, "type": "quantitative", "scale": {"domain": [0, 1]}, "axis": null}}},
        {"transform": [{"filter": "isValid(datum.y2012) && datum.slot !== 'r7'"}], "mark": {"type": "text", "align": "right", "baseline": "middle", "dx": -2, "fontSize": 7, "color": "#555555"},
         "encoding": {"x": {"datum": 1, "type": "quantitative", "scale": {"domain": [0, 1]}, "axis": null},
           "y": {"field": "slot", "type": "nominal", "scale": {"type": "band", "domain": ["r1","r2","r3","r4a","r4b","r5","r6a","r6b","r7"], "paddingInner": 0, "paddingOuter": 0}, "axis": null},
           "text": {"field": "y2012", "type": "quantitative", "format": ",d"}}},
        {"transform": [{"filter": "datum.slot === 'r7'"}], "mark": {"type": "text", "align": "right", "baseline": "middle", "dx": -2, "fontSize": 7.3, "fontWeight": "bold", "color": "#222222"},
         "encoding": {"x": {"datum": 1, "type": "quantitative", "scale": {"domain": [0, 1]}, "axis": null},
           "y": {"field": "slot", "type": "nominal", "scale": {"type": "band", "domain": ["r1","r2","r3","r4a","r4b","r5","r6a","r6b","r7"], "paddingInner": 0, "paddingOuter": 0}, "axis": null},
           "text": {"field": "y2012", "type": "quantitative", "format": ",d"}}}
      ]},
      {"width": 63, "height": 105, "data": {"name": "ruhsat"}, "layer": [
        {"transform": [{"filter": "indexof(['r1','r2','r3','r4b','r5'], datum.slot) >= 0"}], "mark": {"type": "rule", "color": "#cfcfcf", "strokeWidth": 0.6},
         "encoding": {"y": {"field": "slot", "type": "nominal", "bandPosition": 1, "scale": {"type": "band", "domain": ["r1","r2","r3","r4a","r4b","r5","r6a","r6b","r7"], "paddingInner": 0, "paddingOuter": 0}, "axis": null}}},
        {"transform": [{"filter": "datum.slot === 'r6b' || datum.slot === 'r7'"}], "mark": {"type": "rule", "color": "#333333", "strokeWidth": 1.2},
         "encoding": {"y": {"field": "slot", "type": "nominal", "bandPosition": 1, "scale": {"type": "band", "domain": ["r1","r2","r3","r4a","r4b","r5","r6a","r6b","r7"], "paddingInner": 0, "paddingOuter": 0}, "axis": null}}},
        {"transform": [{"filter": "isValid(datum.y2013) && datum.slot !== 'r7'"}], "mark": {"type": "text", "align": "right", "baseline": "middle", "dx": -2, "fontSize": 7, "color": "#4a86c5"},
         "encoding": {"x": {"datum": 1, "type": "quantitative", "scale": {"domain": [0, 1]}, "axis": null},
           "y": {"field": "slot", "type": "nominal", "scale": {"type": "band", "domain": ["r1","r2","r3","r4a","r4b","r5","r6a","r6b","r7"], "paddingInner": 0, "paddingOuter": 0}, "axis": null},
           "text": {"field": "y2013", "type": "quantitative", "format": ",d"}}},
        {"transform": [{"filter": "datum.slot === 'r7'"}], "mark": {"type": "text", "align": "right", "baseline": "middle", "dx": -2, "fontSize": 7.3, "fontWeight": "bold", "color": "#1f5fa8"},
         "encoding": {"x": {"datum": 1, "type": "quantitative", "scale": {"domain": [0, 1]}, "axis": null},
           "y": {"field": "slot", "type": "nominal", "scale": {"type": "band", "domain": ["r1","r2","r3","r4a","r4b","r5","r6a","r6b","r7"], "paddingInner": 0, "paddingOuter": 0}, "axis": null},
           "text": {"field": "y2013", "type": "quantitative", "format": ",d"}}}
      ]},
      {"width": 63, "height": 105, "data": {"name": "ruhsat"}, "layer": [
        {"transform": [{"filter": "indexof(['r1','r2','r3','r4b','r5'], datum.slot) >= 0"}], "mark": {"type": "rule", "color": "#cfcfcf", "strokeWidth": 0.6},
         "encoding": {"y": {"field": "slot", "type": "nominal", "bandPosition": 1, "scale": {"type": "band", "domain": ["r1","r2","r3","r4a","r4b","r5","r6a","r6b","r7"], "paddingInner": 0, "paddingOuter": 0}, "axis": null}}},
        {"transform": [{"filter": "datum.slot === 'r6b' || datum.slot === 'r7'"}], "mark": {"type": "rule", "color": "#333333", "strokeWidth": 1.2},
         "encoding": {"y": {"field": "slot", "type": "nominal", "bandPosition": 1, "scale": {"type": "band", "domain": ["r1","r2","r3","r4a","r4b","r5","r6a","r6b","r7"], "paddingInner": 0, "paddingOuter": 0}, "axis": null}}},
        {"transform": [{"filter": "isValid(datum.pct) && datum.slot !== 'r7'"}], "mark": {"type": "text", "align": "right", "baseline": "middle", "dx": -2, "fontSize": 7, "color": "#4a86c5"},
         "encoding": {"x": {"datum": 1, "type": "quantitative", "scale": {"domain": [0, 1]}, "axis": null},
           "y": {"field": "slot", "type": "nominal", "scale": {"type": "band", "domain": ["r1","r2","r3","r4a","r4b","r5","r6a","r6b","r7"], "paddingInner": 0, "paddingOuter": 0}, "axis": null},
           "text": {"field": "pct", "type": "quantitative", "format": ".0%"}}},
        {"transform": [{"filter": "datum.slot === 'r7'"}], "mark": {"type": "text", "align": "right", "baseline": "middle", "dx": -2, "fontSize": 7.3, "fontWeight": "bold", "color": "#1f5fa8"},
         "encoding": {"x": {"datum": 1, "type": "quantitative", "scale": {"domain": [0, 1]}, "axis": null},
           "y": {"field": "slot", "type": "nominal", "scale": {"type": "band", "domain": ["r1","r2","r3","r4a","r4b","r5","r6a","r6b","r7"], "paddingInner": 0, "paddingOuter": 0}, "axis": null},
           "text": {"field": "pct", "type": "quantitative", "format": ".0%"}}}
      ]}
    ]},
    {"width": 430, "height": 12, "data": {"values": []}, "mark": "point"},
    {"width": 430, "height": 16, "data": {"name": "texts"}, "transform": [{"filter": "datum.block === 'p4'"}],
     "mark": {"type": "text", "align": "left", "baseline": "middle", "dx": 5, "fontSize": 6.7, "color": "#4d4d4d"},
     "encoding": {"x": {"datum": 0, "type": "quantitative", "scale": {"domain": [0, 1]}, "axis": null},
       "y": {"field": "line", "type": "ordinal", "scale": {"type": "point", "padding": 0.5}, "axis": null},
       "text": {"field": "t"}}},
    {"width": 430, "height": 17, "data": {"values": []}, "mark": "point"},
    {"width": 430, "height": 12, "data": {"values": [{}]},
     "mark": {"type": "text", "text": "SABİT FİYATLARLA İNŞAAT SEKTÖRÜNÜN GSYH İÇİNDEKİ PAYI", "baseline": "middle", "dx": -8, "fontSize": 7.3, "fontWeight": "bold", "color": "#1d4f91"},
     "encoding": {}},
    {"spacing": 0, "hconcat": [
      {"width": 33, "height": 16, "data": {"values": []}, "mark": "point"},
      {"width": 134, "height": 16, "data": {"values": [{}]}, "mark": {"type": "rule", "color": "#b0b0b0", "strokeWidth": 0.7},
       "encoding": {"y": {"datum": 0, "type": "quantitative", "scale": {"domain": [0, 1]}, "axis": null}}},
      {"width": 230, "height": 16, "layer": [
        {"data": {"name": "pay"}, "transform": [{"filter": "datum.year !== '2013 (Tahmin)'"}],
         "mark": {"type": "text", "baseline": "middle", "dy": 1, "fontSize": 6.5, "fontWeight": "bold", "color": "#1d4f91"},
         "encoding": {"x": {"field": "year", "type": "nominal", "scale": {"type": "band", "domain": ["2007", "2008", "2009", "2010", "2011", "2012", "2013 (Tahmin)"], "paddingInner": 0, "paddingOuter": 0}, "axis": null},
           "text": {"field": "hdr"}}},
        {"data": {"name": "pay"}, "transform": [{"filter": "datum.year === '2013 (Tahmin)'"}],
         "mark": {"type": "text", "baseline": "top", "dy": -5.7, "lineBreak": "\n", "lineHeight": 8.3, "fontSize": 6.5, "fontWeight": "bold", "color": "#1d4f91"},
         "encoding": {"x": {"field": "year", "type": "nominal", "scale": {"type": "band", "domain": ["2007", "2008", "2009", "2010", "2011", "2012", "2013 (Tahmin)"], "paddingInner": 0, "paddingOuter": 0}, "axis": null},
           "text": {"field": "hdr"}}},
        {"data": {"values": [{}]}, "mark": {"type": "rule", "color": "#b0b0b0", "strokeWidth": 0.7},
         "encoding": {"y": {"datum": 0, "type": "quantitative", "scale": {"domain": [0, 1]}, "axis": null}}}
      ]},
      {"width": 11, "height": 16, "data": {"values": [{}]}, "mark": {"type": "rule", "color": "#b0b0b0", "strokeWidth": 0.7},
       "encoding": {"y": {"datum": 0, "type": "quantitative", "scale": {"domain": [0, 1]}, "axis": null}}}
    ]},
    {"spacing": 0, "hconcat": [
      {"width": 33, "height": 13, "data": {"values": []}, "mark": "point"},
      {"width": 134, "height": 13, "data": {"values": [{}]}, "layer": [
        {"mark": {"type": "text", "text": "İNŞAAT SEKTÖRÜNÜN GSYH İÇİNDEKİ PAYI", "align": "left", "baseline": "middle", "fontSize": 5.2, "fontWeight": "bold", "color": "#1d4f91"},
         "encoding": {"x": {"datum": 0, "type": "quantitative", "scale": {"domain": [0, 1]}, "axis": null}}},
        {"mark": {"type": "rule", "color": "#b0b0b0", "strokeWidth": 0.7},
         "encoding": {"y": {"datum": 0, "type": "quantitative", "scale": {"domain": [0, 1]}, "axis": null}}}
      ]},
      {"width": 230, "height": 13, "layer": [
        {"data": {"name": "pay"}, "mark": {"type": "text", "baseline": "middle", "fontSize": 6.8, "fontWeight": "bold", "color": "#1d4f91"},
         "encoding": {"x": {"field": "year", "type": "nominal", "scale": {"type": "band", "paddingInner": 0, "paddingOuter": 0}, "axis": null},
           "text": {"field": "pay", "type": "quantitative", "format": ".1%"}}},
        {"data": {"values": [{}]}, "mark": {"type": "rule", "color": "#b0b0b0", "strokeWidth": 0.7},
         "encoding": {"y": {"datum": 0, "type": "quantitative", "scale": {"domain": [0, 1]}, "axis": null}}}
      ]},
      {"width": 11, "height": 13, "data": {"values": [{}]}, "mark": {"type": "rule", "color": "#b0b0b0", "strokeWidth": 0.7},
       "encoding": {"y": {"datum": 0, "type": "quantitative", "scale": {"domain": [0, 1]}, "axis": null}}}
    ]},
    {"width": 430, "height": 4, "data": {"values": []}, "mark": "point"},
    {"spacing": 0, "hconcat": [
      {"width": 105, "height": 94, "data": {"values": []}, "mark": "point"},
      {"width": 292, "height": 94, "view": {"fill": "#f2f2f2"}, "data": {"name": "pay"},
       "mark": {"type": "line", "color": "#5b6a9a", "strokeWidth": 1.4, "point": {"shape": "diamond", "size": 16, "filled": true, "color": "#5b6a9a"}},
       "encoding": {
         "x": {"field": "year", "type": "ordinal", "scale": {"type": "point", "padding": 0.5}, "axis": null},
         "y": {"field": "pay", "type": "quantitative", "scale": {"domain": [0.04, 0.08], "nice": false, "zero": false},
           "axis": {"values": [0.04, 0.045, 0.05, 0.055, 0.06, 0.065, 0.07, 0.075, 0.08], "format": ".1%", "title": null, "grid": false, "ticks": false,
             "labelFontSize": 5, "labelColor": "#555555", "labelPadding": 3, "domainColor": "#9a9a9a", "minExtent": 15, "maxExtent": 15, "labelOverlap": false}}}}
    ]},
    {"spacing": 0, "hconcat": [
      {"width": 23, "height": 14, "data": {"values": []}, "mark": "point"},
      {"width": 97, "height": 14, "data": {"values": [{}]}, "layer": [
        {"mark": {"type": "rect", "fill": "#ffffff", "stroke": "#b0b0b0", "strokeWidth": 0.5},
         "encoding": {"y": {"datum": "v", "type": "nominal", "scale": {"type": "band", "domain": ["h", "v"], "paddingInner": 0, "paddingOuter": 0}, "axis": null}}},
        {"mark": {"type": "text", "text": "—◆—", "align": "left", "baseline": "middle", "dx": 3, "fontSize": 4.6, "color": "#5b6a9a"},
         "encoding": {"x": {"datum": 0, "type": "quantitative", "scale": {"domain": [0, 1]}, "axis": null},
           "y": {"datum": "v", "type": "nominal", "scale": {"type": "band", "domain": ["h", "v"], "paddingInner": 0, "paddingOuter": 0}, "axis": null}}},
        {"mark": {"type": "text", "text": "İNŞAAT SEKTÖRÜNÜN GSYH İÇİNDEKİ PAYI", "align": "left", "baseline": "middle", "dx": 16, "fontSize": 3.9, "color": "#555555"},
         "encoding": {"x": {"datum": 0, "type": "quantitative", "scale": {"domain": [0, 1]}, "axis": null},
           "y": {"datum": "v", "type": "nominal", "scale": {"type": "band", "domain": ["h", "v"], "paddingInner": 0, "paddingOuter": 0}, "axis": null}}}
      ]},
      {"width": 292, "height": 14, "data": {"name": "pay"}, "layer": [
        {"mark": {"type": "rect", "fill": "#ffffff", "stroke": "#b0b0b0", "strokeWidth": 0.5},
         "encoding": {"x": {"field": "year", "type": "nominal", "scale": {"type": "band", "paddingInner": 0, "paddingOuter": 0}, "axis": null},
           "y": {"datum": "h", "type": "nominal", "scale": {"type": "band", "domain": ["h", "v"], "paddingInner": 0, "paddingOuter": 0}, "axis": null}}},
        {"mark": {"type": "rect", "fill": "#ffffff", "stroke": "#b0b0b0", "strokeWidth": 0.5},
         "encoding": {"x": {"field": "year", "type": "nominal", "scale": {"type": "band", "paddingInner": 0, "paddingOuter": 0}, "axis": null},
           "y": {"datum": "v", "type": "nominal", "scale": {"type": "band", "domain": ["h", "v"], "paddingInner": 0, "paddingOuter": 0}, "axis": null}}},
        {"mark": {"type": "text", "baseline": "middle", "fontSize": 4.6, "color": "#555555"},
         "encoding": {"x": {"field": "year", "type": "nominal", "scale": {"type": "band", "paddingInner": 0, "paddingOuter": 0}, "axis": null},
           "y": {"datum": "h", "type": "nominal", "scale": {"type": "band", "domain": ["h", "v"], "paddingInner": 0, "paddingOuter": 0}, "axis": null},
           "text": {"field": "year"}}},
        {"mark": {"type": "text", "baseline": "middle", "fontSize": 4.6, "color": "#555555"},
         "encoding": {"x": {"field": "year", "type": "nominal", "scale": {"type": "band", "paddingInner": 0, "paddingOuter": 0}, "axis": null},
           "y": {"datum": "v", "type": "nominal", "scale": {"type": "band", "domain": ["h", "v"], "paddingInner": 0, "paddingOuter": 0}, "axis": null},
           "text": {"field": "pay", "type": "quantitative", "format": ".1%"}}}
      ]}
    ]},
    {"width": 430, "height": 8, "data": {"values": []}, "mark": "point"},
    {"width": 430, "height": 16, "data": {"name": "texts"}, "transform": [{"filter": "datum.block === 'p5'"}],
     "mark": {"type": "text", "align": "left", "baseline": "middle", "dx": 5, "fontSize": 6.95, "color": "#4d4d4d"},
     "encoding": {"x": {"datum": 0, "type": "quantitative", "scale": {"domain": [0, 1]}, "axis": null},
       "y": {"field": "line", "type": "ordinal", "scale": {"type": "point", "padding": 0.5}, "axis": null},
       "text": {"field": "t"}}},
    {"width": 430, "height": 2, "data": {"values": []}, "mark": "point"},
    {"width": 430, "height": 10, "data": {"values": [{}]}, "layer": [
      {"mark": {"type": "text", "text": "11", "align": "right", "baseline": "middle", "dx": -5, "fontSize": 6.5, "fontWeight": "bold", "color": "#1d4f91"},
       "encoding": {"x": {"datum": 1, "type": "quantitative", "scale": {"domain": [0, 1]}, "axis": null}}},
      {"mark": {"type": "text", "text": "KONYA ÇİMENTO", "align": "right", "baseline": "middle", "dx": -27, "fontSize": 6, "fontWeight": "bold", "color": "#1d4f91"},
       "encoding": {"x": {"datum": 1, "type": "quantitative", "scale": {"domain": [0, 1]}, "axis": null}}},
      {"mark": {"type": "text", "text": "2013 YILI FAALİYET RAPORU -", "align": "right", "baseline": "middle", "dx": -76, "fontSize": 6, "color": "#8a8a8a"},
       "encoding": {"x": {"datum": 1, "type": "quantitative", "scale": {"domain": [0, 1]}, "axis": null}}}
    ]}
  ]}
 ]}
]
}
